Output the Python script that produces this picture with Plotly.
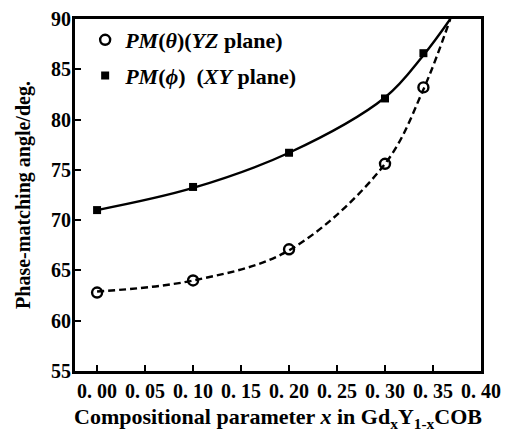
import plotly.graph_objects as go

# Data
x_yz = [0.00, 0.10, 0.20, 0.30, 0.34]
y_yz = [62.8, 64.0, 67.1, 75.6, 83.2]
x_xy = [0.00, 0.10, 0.20, 0.30, 0.34]
y_xy = [71.0, 73.3, 76.7, 82.1, 86.6]

# fitted curves
fit_yz_x = [0.00, 0.10, 0.20, 0.30, 0.34, 0.368]
fit_yz_y = [62.9, 64.0, 67.0, 75.6, 83.0, 90.0]
fit_xy_x = [0.00, 0.10, 0.20, 0.30, 0.34, 0.368]
fit_xy_y = [71.0, 73.2, 76.7, 82.2, 86.4, 90.0]

x_ticks = [0.00, 0.05, 0.10, 0.15, 0.20, 0.25, 0.30, 0.35, 0.40]
x_ticktext = ["0. 00", "0. 05", "0. 10", "0. 15", "0. 20", "0. 25", "0. 30", "0. 35", "0. 40"]
y_ticks = [55, 60, 65, 70, 75, 80, 85, 90]

FONT = "Liberation Serif"

fig = go.Figure()
fig.add_trace(go.Scatter(x=fit_xy_x, y=fit_xy_y, mode="lines", line=dict(color="black", width=2.4, shape="spline", smoothing=1.0), showlegend=False, hoverinfo="skip"))
fig.add_trace(go.Scatter(x=fit_yz_x, y=fit_yz_y, mode="lines", line=dict(color="black", width=2.4, dash="7px,4px", shape="spline", smoothing=1.0), showlegend=False, hoverinfo="skip"))
fig.add_trace(go.Scatter(x=x_yz, y=y_yz, mode="markers", name="<b><i>PM</i>(<i>θ</i>)(<i>YZ</i> plane)</b>", legendgroup="a",
                         marker=dict(symbol="circle-open", size=10, color="black", line=dict(width=2.4))))
fig.add_trace(go.Scatter(x=x_xy, y=y_xy, mode="markers", name="<b><i>PM</i>(<i>ϕ</i>)  (<i>XY</i> plane)</b>", legendgroup="b",
                         marker=dict(symbol="square", size=8, color="black")))

# page body has an 8px default margin, so the figure is sized to fit the 515x432 window
fig.update_layout(
    width=507, height=424,
    margin=dict(l=67, r=34, t=11, b=61),
    paper_bgcolor="white", plot_bgcolor="white",
    font=dict(family=FONT, color="black"),
    legend=dict(x=0.025, y=1.0, xanchor="left", yanchor="top", bgcolor="rgba(0,0,0,0)",
                font=dict(family=FONT, size=22, color="black"), itemwidth=30, tracegroupgap=4),
    xaxis=dict(range=[-0.023, 0.40], tickvals=x_ticks, ticktext=x_ticktext, tickangle=0, automargin=False,
               ticks="inside", ticklen=6, tickwidth=2, tickcolor="black", ticklabeloverflow="allow",
               showline=True, linecolor="black", linewidth=3, mirror=True, showgrid=False, zeroline=False,
               tickfont=dict(family=FONT, size=20, color="black", weight="bold"),
               title=dict(text="<b>Compositional parameter <i>x</i> in Gd<sub>x</sub>Y<sub>1-x</sub>COB</b>",
                          font=dict(family=FONT, size=22, color="black"), standoff=17)),
    yaxis=dict(range=[55, 90], tickvals=y_ticks, automargin=False,
               ticks="inside", ticklen=6, tickwidth=2, tickcolor="black", ticklabelstandoff=-3,
               ticklabeloverflow="allow",
               showline=True, linecolor="black", linewidth=3, mirror=True, showgrid=False, zeroline=False,
               tickfont=dict(family=FONT, size=20, color="black", weight="bold"),
               title=dict(text="<b>Phase-matching angle/deg.</b>", font=dict(family=FONT, size=20, color="black"), standoff=16)),
)

fig.write_html("out.html")
